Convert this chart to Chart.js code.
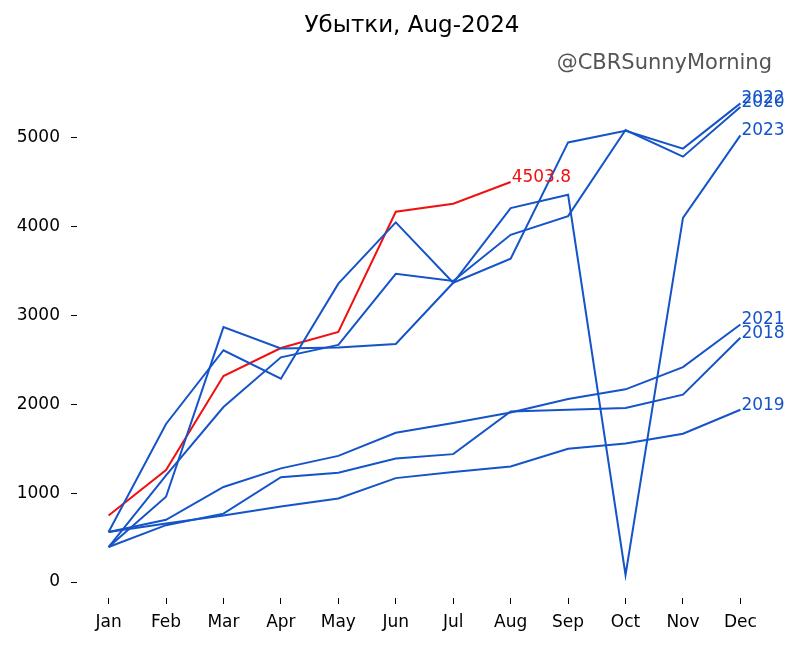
<!DOCTYPE html>
<html>
<head>
<meta charset="utf-8">
<script src="https://cdn.jsdelivr.net/npm/chart.js@4.4.1/dist/chart.umd.min.js"></script>
<style>
body { margin: 0; background: #fff; }
</style>
</head>
<body>
<canvas id="grafico" width="800" height="646"></canvas>
<script>
const meses = ['Jan', 'Feb', 'Mar', 'Apr', 'May', 'Jun', 'Jul', 'Aug', 'Sep', 'Oct', 'Nov', 'Dec'];
const yTicks = [0, 1000, 2000, 3000, 4000, 5000];

// убытки по годам
const v2018 = [394, 640, 770, 1180, 1230, 1390, 1440, 1920, 1940, 1960, 2110, 2750];
const v2019 = [563, 660, 750, 850, 940, 1170, 1240, 1300, 1500, 1560, 1670, 1940];
const v2020 = [394, 1200, 1970, 2530, 2670, 3470, 3390, 3910, 4120, 5090, 4790, 5350];
const v2021 = [563, 700, 1070, 1280, 1420, 1680, 1790, 1910, 2060, 2170, 2420, 2900];
const v2022 = [563, 1780, 2610, 2290, 3360, 4050, 3370, 3640, 4950, 5080, 4880, 5390];
const v2023 = [394, 960, 2870, 2630, 2640, 2680, 3370, 4210, 4360, 80, 4100, 5030];
const v2024 = [750, 1260, 2320, 2635, 2815, 4170, 4260, 4503.8];

const azul = '#1554c8';
const vermelho = '#f01010';

function serie(nome, valores, cor, rotulo) {
    return {
        label: nome,
        rotulo: rotulo,
        data: valores.map((v, i) => ({ x: i, y: v })),
        borderColor: cor,
        backgroundColor: cor,
        borderWidth: 2,
        pointRadius: 0,
        tension: 0,
        fill: false
    };
}

const datasets = [
    serie('2018', v2018, azul, '2018'),
    serie('2019', v2019, azul, '2019'),
    serie('2020', v2020, azul, '2020'),
    serie('2021', v2021, azul, '2021'),
    serie('2022', v2022, azul, '2022'),
    serie('2023', v2023, azul, '2023'),
    serie('2024', v2024, vermelho, v2024[v2024.length - 1].toFixed(1))
];

const textos = {
    id: 'textos',
    afterDatasetsDraw(chart) {
        const ctx = chart.ctx;
        const sx = chart.scales.x;
        const sy = chart.scales.y;
        ctx.save();
        ctx.font = '17px "DejaVu Sans"';
        ctx.textAlign = 'left';
        ctx.textBaseline = 'alphabetic';
        chart.data.datasets.forEach(ds => {
            const ultimo = ds.data[ds.data.length - 1];
            ctx.fillStyle = ds.borderColor;
            ctx.fillText(ds.rotulo, sx.getPixelForValue(ultimo.x) + 1, sy.getPixelForValue(ultimo.y));
        });
        ctx.restore();
    },
    afterDraw(chart) {
        const ctx = chart.ctx;
        ctx.save();
        ctx.textBaseline = 'alphabetic';
        ctx.font = '23px "DejaVu Sans"';
        ctx.fillStyle = '#000';
        ctx.textAlign = 'center';
        ctx.fillText('Убытки, Aug-2024', 412, 32);
        ctx.font = '21px "DejaVu Sans"';
        ctx.fillStyle = '#555';
        ctx.textAlign = 'right';
        ctx.fillText('@CBRSunnyMorning', 772, 69);
        ctx.restore();
    }
};

new Chart(document.getElementById('grafico'), {
    type: 'line',
    data: { datasets: datasets },
    plugins: [textos],
    options: {
        responsive: false,
        animation: false,
        devicePixelRatio: 1,
        layout: { padding: { top: 80, right: 28, left: 0, bottom: 0 } },
        plugins: {
            legend: { display: false },
            tooltip: { enabled: false }
        },
        scales: {
            x: {
                type: 'linear',
                min: -0.55,
                max: 11.55,
                afterBuildTicks: axis => { axis.ticks = meses.map((m, i) => ({ value: i })); },
                afterFit: axis => { axis.height = 48; },
                ticks: {
                    callback: v => meses[v],
                    color: '#000',
                    padding: 8,
                    maxRotation: 0,
                    autoSkip: false,
                    font: { family: 'DejaVu Sans', size: 17 }
                },
                grid: { drawOnChartArea: false, drawTicks: true, tickLength: 6, color: '#000' },
                border: { display: false }
            },
            y: {
                min: -180,
                max: 5653,
                afterBuildTicks: axis => { axis.ticks = yTicks.map(v => ({ value: v })); },
                afterFit: axis => { axis.width = 77; },
                ticks: {
                    callback: v => String(v),
                    color: '#000',
                    padding: 11,
                    font: { family: 'DejaVu Sans', size: 17 }
                },
                grid: { drawOnChartArea: false, drawTicks: true, tickLength: 6, color: '#000' },
                border: { display: false }
            }
        }
    }
});
</script>
</body>
</html>
